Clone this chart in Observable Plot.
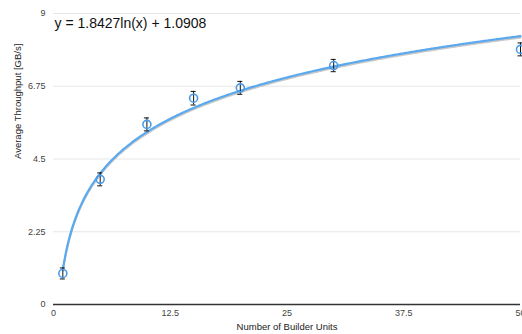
<!DOCTYPE html>
<html>
<head>
<meta charset="utf-8">
<script src="https://cdn.jsdelivr.net/npm/d3@7"></script>
<script src="https://cdn.jsdelivr.net/npm/@observablehq/plot@0.6"></script>
<style>
  html, body { margin: 0; padding: 0; background: #fff; }
  svg { display: block; }
</style>
</head>
<body>
<div id="chart"></div>
<script>
const units = [1, 5, 10, 15, 20, 30, 50];
const throughput = [0.96, 3.87, 5.57, 6.38, 6.70, 7.39, 7.89];
const errors = [0.17, 0.2, 0.2, 0.21, 0.2, 0.19, 0.2];
const xTicks = [0, 12.5, 25, 37.5, 50];
const yTicks = [0, 2.25, 4.5, 6.75, 9];
const fitA = 1.8427;
const fitB = 1.0908;
const equationLabel = "y = 1.8427ln(x) + 1.0908";
const xLabel = "Number of Builder Units";
const yLabel = "Average Throughput [GB/s]";

const points = units.map((x, i) => ({x, y: throughput[i], e: errors[i]}));
const trend = d3.range(1, 50.01, 0.25).map(x => ({x, y: fitA * Math.log(x) + fitB}));

const fmt = d => String(d);
const chart = Plot.plot({
  width: 522,
  height: 334,
  marginLeft: 53,
  marginRight: 2,
  marginTop: 13,
  marginBottom: 30,
  style: {fontFamily: "Liberation Sans, Arial, sans-serif", fontSize: "9px", color: "#444", background: "#fff"},
  x: {domain: [0, 50], ticks: xTicks, tickFormat: fmt, tickSize: 0, tickPadding: 5, label: null},
  y: {domain: [0, 9], ticks: yTicks, tickFormat: fmt, tickSize: 0, tickPadding: 8, label: null},
  marks: [
    Plot.gridY(yTicks, {stroke: "#e6e6e6", strokeOpacity: 1, strokeWidth: 1}),
    Plot.ruleY([0], {stroke: "#333", strokeWidth: 1.5}),
    Plot.line(trend, {x: "x", y: "y", stroke: "#c8c8c8", strokeWidth: 2, dy: 1.5, curve: "basis"}),
    Plot.line(trend, {x: "x", y: "y", stroke: "#5aa9ee", strokeWidth: 2.2, curve: "basis"}),
    Plot.ruleX(points, {x: "x", y1: d => d.y - d.e, y2: d => d.y + d.e, stroke: "#111", strokeWidth: 1}),
    Plot.ruleY(points, {y: d => d.y + d.e, x1: "x", x2: "x", insetLeft: -2.5, insetRight: -2.5, stroke: "#111", strokeWidth: 1}),
    Plot.ruleY(points, {y: d => d.y - d.e, x1: "x", x2: "x", insetLeft: -2.5, insetRight: -2.5, stroke: "#111", strokeWidth: 1}),
    Plot.dot(points, {x: "x", y: "y", r: 4, stroke: "#4a9be6", strokeWidth: 1.6, fill: "none"}),
    Plot.text([equationLabel], {frameAnchor: "top-left", text: d => d, dx: 1, dy: 5, fontSize: 14, fill: "#111", textAnchor: "start"}),
    Plot.text([xLabel], {frameAnchor: "bottom", text: d => d, dy: 25, fontSize: 9.5, fill: "#222"}),
    Plot.text([yLabel], {frameAnchor: "left", text: d => d, dx: -36, rotate: -90, fontSize: 9.5, fill: "#222"})
  ]
});
document.getElementById("chart").appendChild(chart);
</script>
</body>
</html>
